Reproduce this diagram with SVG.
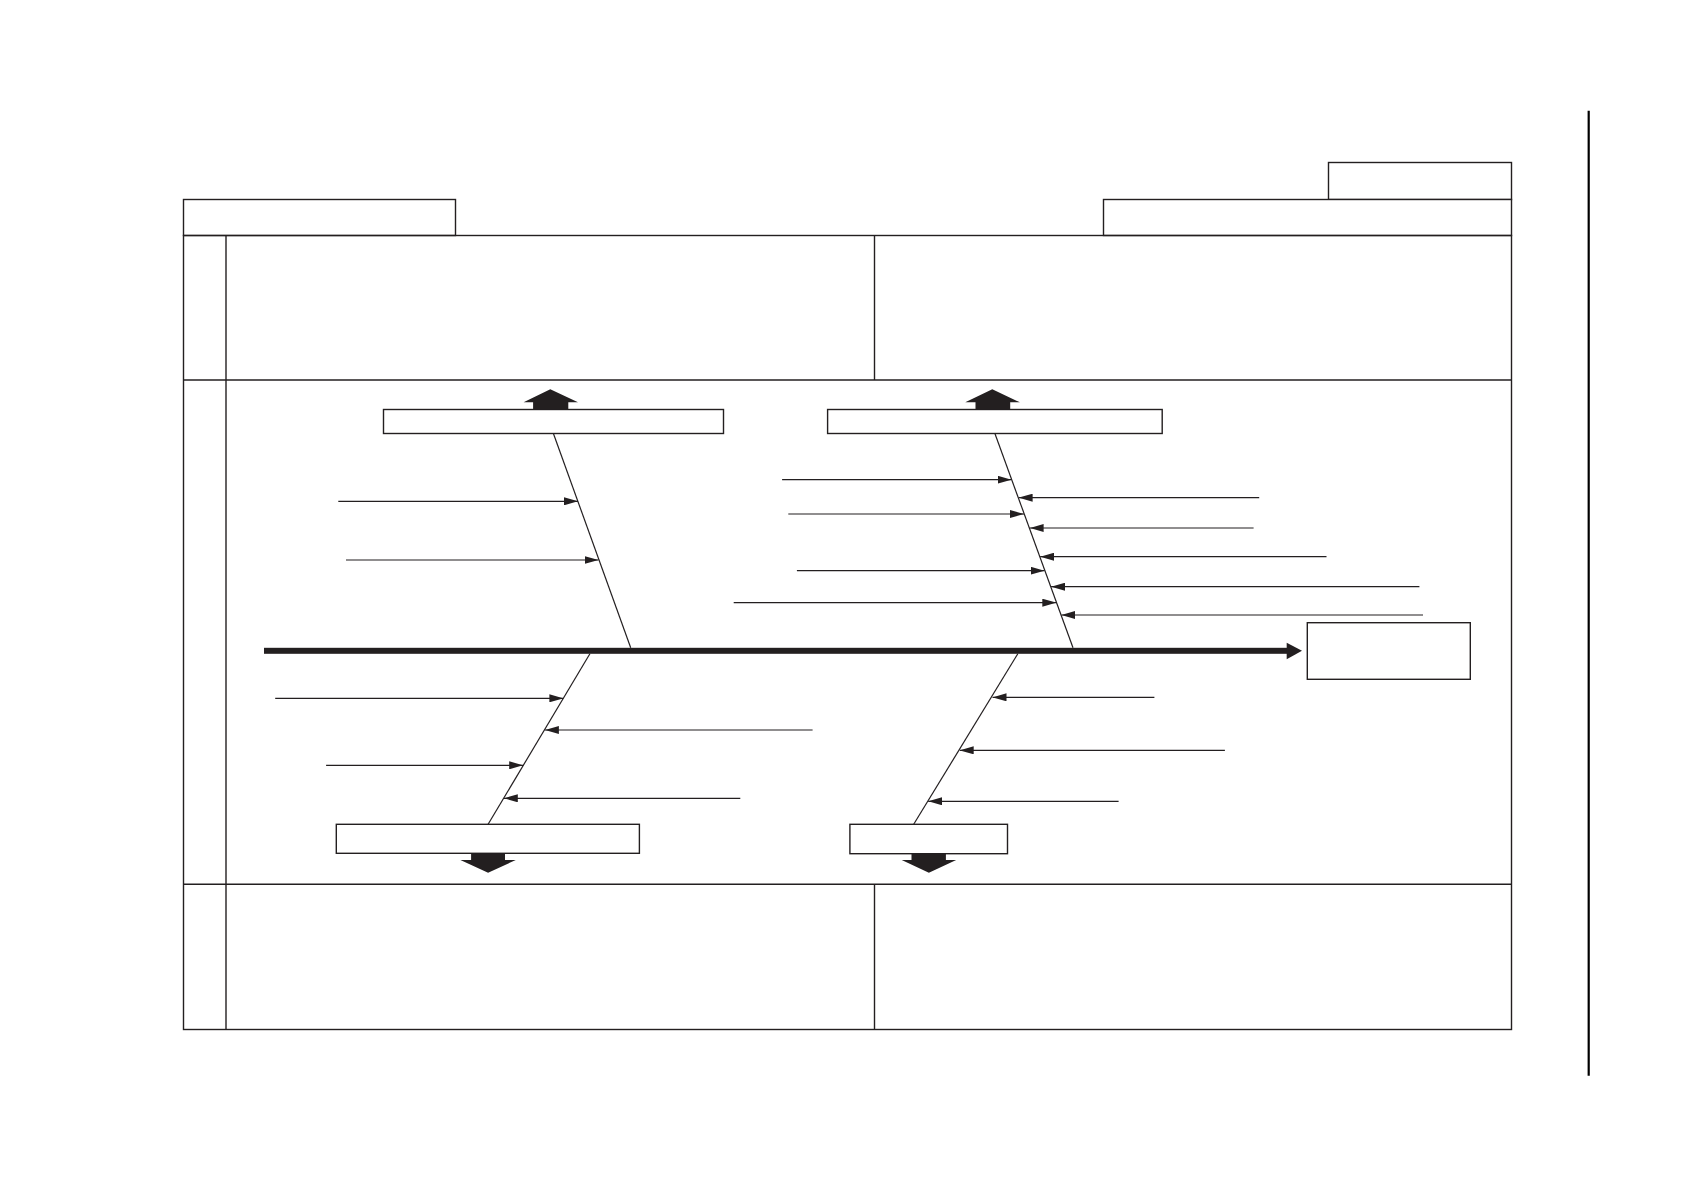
<svg xmlns="http://www.w3.org/2000/svg" width="1682" height="1192" viewBox="0 0 1682 1192">
<style>
.ln{stroke:#231f20;stroke-width:1.4;fill:none}
.box{stroke:#231f20;stroke-width:1.4;fill:#fff}
.bone{stroke:#231f20;stroke-width:1.2;fill:none}
.cause{stroke:#231f20;stroke-width:1.2;fill:none;marker-end:url(#ah)}
.blk{fill:#231f20;stroke:none}
</style>
<defs>
<marker id="ah" viewBox="0 0 14 8" refX="14" refY="4" markerWidth="14" markerHeight="8" markerUnits="userSpaceOnUse" orient="auto">
<path d="M0,0 L14,4 L0,8 Z" fill="#231f20"/>
</marker>
</defs>
<rect width="1682" height="1192" fill="#fff"/>
<g id="form">
<rect class="box" x="183.5" y="199.5" width="272" height="36"/>
<rect class="box" x="1328.5" y="162.5" width="183" height="37"/>
<rect class="box" x="1103.5" y="199.5" width="408" height="36"/>
<rect class="ln" x="183.5" y="235.5" width="1328" height="794"/>
<line class="ln" x1="226" y1="235.5" x2="226" y2="1029.5"/>
<line class="ln" x1="183.5" y1="380" x2="1511.5" y2="380"/>
<line class="ln" x1="183.5" y1="884.3" x2="1511.5" y2="884.3"/>
<line class="ln" x1="874.5" y1="235.5" x2="874.5" y2="380"/>
<line class="ln" x1="874.5" y1="884.3" x2="874.5" y2="1029.5"/>
<line x1="1588.7" y1="110.7" x2="1588.7" y2="1075.7" stroke="#000" stroke-width="2.2"/>
</g>
<g id="spine">
<rect class="blk" x="264" y="647.8" width="1024" height="6"/>
<path class="blk" d="M1286.7,642.7 L1302,650.8 L1286.7,659.3 Z"/>
</g>
<g id="effect">
<rect class="box" x="1307.3" y="622.7" width="163" height="56.6"/>
</g>
<g id="cat-upper-left">
<rect class="box" x="383.5" y="409.5" width="340" height="24"/>
<path class="blk" d="M550.3,389.3 L578,402.3 L568.3,402.3 L568.3,409.5 L533.1,409.5 L533.1,402.3 L523.6,402.3 Z"/>
</g>
<g id="cat-upper-right">
<rect class="box" x="827.6" y="409.5" width="334.6" height="24"/>
<path class="blk" d="M992.3,389.3 L1019.9,402.3 L1010.2,402.3 L1010.2,409.5 L975.5,409.5 L975.5,402.3 L965.3,402.3 Z"/>
</g>
<g id="cat-lower-left">
<rect class="box" x="336.3" y="824.3" width="303.1" height="29"/>
<path class="blk" d="M471.1,853.3 L505,853.3 L505,860 L515.8,860 L488.1,872.7 L460.4,860 L471.1,860 Z"/>
</g>
<g id="cat-lower-right">
<rect class="box" x="849.9" y="824.3" width="157.6" height="29.4"/>
<path class="blk" d="M911.5,853.7 L945.9,853.7 L945.9,860 L956.2,860 L928.9,872.7 L901.7,860 L911.5,860 Z"/>
</g>
<g id="connectors">
<line class="bone" x1="553.4" y1="433.5" x2="630.7" y2="647.8"/>
<line class="bone" x1="994.9" y1="433.5" x2="1073" y2="647.8"/>
<line class="bone" x1="589.9" y1="653.8" x2="488.1" y2="824.3"/>
<line class="bone" x1="1017.8" y1="653.8" x2="913.7" y2="824.3"/>
<line class="cause" x1="338.3" y1="501.3" x2="578" y2="501.3"/>
<line class="cause" x1="346" y1="560" x2="598.5" y2="560"/>
<line class="cause" x1="782.1" y1="479.7" x2="1011.5" y2="479.7"/>
<line class="cause" x1="788.3" y1="514" x2="1024" y2="514"/>
<line class="cause" x1="796.9" y1="570.7" x2="1044.5" y2="570.7"/>
<line class="cause" x1="733.7" y1="602.7" x2="1056.3" y2="602.7"/>
<line class="cause" x1="1259.2" y1="497.7" x2="1018.6" y2="497.7"/>
<line class="cause" x1="1253.6" y1="528" x2="1029.6" y2="528"/>
<line class="cause" x1="1326.5" y1="556.7" x2="1040.2" y2="556.7"/>
<line class="cause" x1="1419.4" y1="586.7" x2="1051.1" y2="586.7"/>
<line class="cause" x1="1423" y1="615" x2="1061.4" y2="615"/>
<line class="cause" x1="275.2" y1="698.3" x2="563.4" y2="698.3"/>
<line class="cause" x1="812.6" y1="730" x2="544.9" y2="730"/>
<line class="cause" x1="326.1" y1="765.3" x2="523.2" y2="765.3"/>
<line class="cause" x1="740.3" y1="798.3" x2="503.8" y2="798.3"/>
<line class="cause" x1="1154.4" y1="697.3" x2="992.5" y2="697.3"/>
<line class="cause" x1="1224.9" y1="750.3" x2="959.7" y2="750.3"/>
<line class="cause" x1="1118.6" y1="801.3" x2="928.2" y2="801.3"/>
</g>
</svg>
